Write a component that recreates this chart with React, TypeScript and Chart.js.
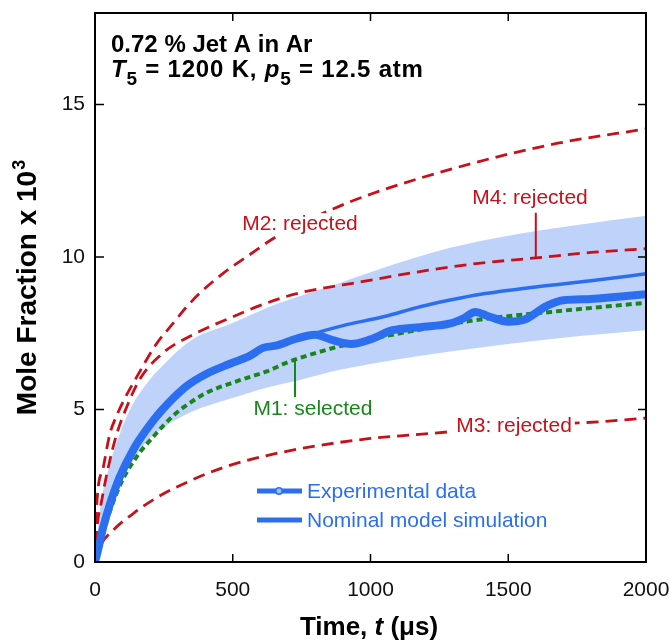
import React, { useEffect, useRef } from 'react';
import { Chart, registerables } from 'chart.js';
Chart.register(...registerables);

const FONT = "'Liberation Sans', Arial, Helvetica, sans-serif";
const BLUE = '#2b6ff0';
const BAND = '#bfd3fa';
const RED = '#c8101a';
const GREEN = '#17871a';

const xTicks = [0, 500, 1000, 1500, 2000];
const yTicks = [0, 5, 10, 15];

// Experimental data
const expT = [0, 10, 30, 55, 90, 140, 190, 240, 330, 400, 490, 560, 610, 660, 730, 800, 860, 930, 1000, 1080, 1180, 1290, 1340, 1380, 1430, 1500, 1560, 1640, 1700, 1800, 1900, 2000];
const expY = [0, 0.35, 1.15, 1.92, 2.79, 3.7, 4.38, 4.95, 5.75, 6.15, 6.5, 6.75, 7.02, 7.1, 7.32, 7.45, 7.28, 7.15, 7.3, 7.6, 7.7, 7.82, 8.0, 8.2, 8.05, 7.88, 7.95, 8.4, 8.58, 8.62, 8.7, 8.78];

// Nominal model simulation
const nomT = [0, 30, 90, 190, 330, 490, 620, 760, 900, 1046, 1180, 1289, 1400, 1600, 1800, 2000];
const nomY = [0, 1.15, 2.8, 4.35, 5.8, 6.55, 7.0, 7.4, 7.75, 8.04, 8.37, 8.59, 8.78, 9.02, 9.22, 9.45];

// M1 (selected)
const m1T = [0, 30, 90, 151, 212, 284, 345, 405, 490, 539, 624, 700, 800, 900, 1039, 1200, 1381, 1655, 2000];
const m1Y = [0, 1.0, 2.5, 3.45, 4.11, 4.8, 5.22, 5.55, 5.85, 6.0, 6.25, 6.55, 6.85, 7.1, 7.38, 7.65, 7.93, 8.2, 8.5];

// M2 (rejected)
const m2T = [0, 6, 30, 54, 82, 110, 151, 219, 284, 333, 393, 466, 551, 659, 870, 1010, 1369, 1680, 2000];
const m2Y = [0, 1.8, 3.1, 4.2, 4.87, 5.4, 6.06, 7.1, 7.83, 8.37, 8.92, 9.47, 10.01, 10.67, 11.6, 12.09, 13.07, 13.73, 14.2];

// M3 (rejected)
const m3T = [0, 18, 67, 139, 224, 345, 466, 624, 800, 1000, 1227, 1500, 1833, 2000];
const m3Y = [0, 0.5, 1.05, 1.59, 2.11, 2.66, 3.1, 3.49, 3.8, 4.05, 4.22, 4.45, 4.6, 4.72];

// M4 (rejected)
const m4T = [0, 6, 24, 48, 79, 115, 163, 246, 355, 490, 611, 732, 974, 1200, 1400, 1600, 1800, 2000];
const m4Y = [0, 1.0, 2.0, 3.1, 4.2, 5.08, 6.0, 6.85, 7.45, 8.0, 8.45, 8.8, 9.2, 9.55, 9.8, 9.97, 10.15, 10.27];

// Uncertainty band
const bandT = [0, 20, 54, 90, 127, 188, 236, 345, 490, 636, 744, 889, 1100, 1289, 1500, 1750, 2000];
const bandUpper = [0, 1.8, 3.2, 4.2, 5.0, 5.85, 6.35, 7.25, 7.8, 8.38, 8.72, 9.15, 9.8, 10.3, 10.7, 11.05, 11.35];
const bandLower = [0, 0.9, 1.8, 2.5, 3.15, 3.95, 4.33, 4.9, 5.35, 5.75, 5.97, 6.3, 6.65, 6.9, 7.15, 7.4, 7.6];

const pts = (t: number[], y: number[]) => t.map((v, i) => ({ x: v, y: y[i] }));

const overlay = {
  id: 'overlay',
  afterDraw(chart: any) {
    const { ctx, chartArea: a, scales } = chart;
    const x = scales.x, y = scales.y;
    const X = (v: number) => x.getPixelForValue(v);
    const Y = (v: number) => y.getPixelForValue(v);
    ctx.save();
    const line = (x1: number, y1: number, x2: number, y2: number) => {
      ctx.beginPath(); ctx.moveTo(x1, y1); ctx.lineTo(x2, y2); ctx.stroke();
    };
    const boxedLabel = (text: string, cx: number, cy: number, color: string) => {
      const w = ctx.measureText(text).width;
      ctx.fillStyle = '#fff';
      ctx.fillRect(cx - w / 2 - 3, cy - 11, w + 6, 22);
      ctx.fillStyle = color;
      ctx.fillText(text, cx, cy);
    };

    // Model labels
    ctx.font = `21px ${FONT}`;
    ctx.textAlign = 'center';
    ctx.textBaseline = 'middle';
    boxedLabel('M3: rejected', X(1521), Y(4.46), RED);
    boxedLabel('M2: rejected', X(744), Y(11.08), RED);
    ctx.fillStyle = RED;
    ctx.fillText('M4: rejected', X(1579), Y(11.93));
    ctx.strokeStyle = RED; ctx.lineWidth = 2;
    line(X(1600), Y(11.45), X(1600), Y(9.97));
    ctx.fillStyle = GREEN;
    ctx.fillText('M1: selected', X(791), Y(5.02));
    ctx.strokeStyle = GREEN; ctx.lineWidth = 2;
    line(X(726), Y(5.41), X(726), Y(6.62));

    // Legend
    ctx.lineCap = 'butt';
    ctx.strokeStyle = BLUE; ctx.lineWidth = 5;
    line(257, 491, 302, 491);
    line(257, 520, 302, 520);
    ctx.beginPath(); ctx.arc(279, 491, 3.2, 0, Math.PI * 2);
    ctx.fillStyle = '#9fbdf8'; ctx.fill();
    ctx.lineWidth = 1.5; ctx.stroke();
    ctx.fillStyle = BLUE;
    ctx.textAlign = 'left';
    ctx.font = `21px ${FONT}`;
    ctx.fillText('Experimental data', 307, 492);
    ctx.fillText('Nominal model simulation', 307, 521);

    // Condition text
    ctx.fillStyle = '#000';
    ctx.textBaseline = 'alphabetic';
    ctx.font = `bold 24px ${FONT}`;
    ctx.fillText('0.72 % Jet A in Ar', 111, 52);
    const runs: [string, string, number][] = [
      ['T', 'italic bold 24px', 0],
      ['5', 'bold 19px', 8],
      [' = 1200 K, ', 'bold 24px', 0],
      ['p', 'italic bold 24px', 0],
      ['5', 'bold 19px', 8],
      [' = 12.5 atm', 'bold 24px', 0],
    ];
    try { (ctx as any).letterSpacing = '0.8px'; } catch (e) { /* ignore */ }
    let cx = 111;
    for (const [t, f, dy] of runs) {
      ctx.font = `${f} ${FONT}`;
      ctx.fillText(t, cx, 77 + dy);
      cx += ctx.measureText(t).width;
    }
    try { (ctx as any).letterSpacing = '0px'; } catch (e) { /* ignore */ }

    // Axis titles
    const t1 = 'Time, ', t2 = 't', t3 = ' (\u03bcs)';
    ctx.font = `bold 26px ${FONT}`;
    const w1 = ctx.measureText(t1).width;
    const w3 = ctx.measureText(t3).width;
    ctx.font = `italic bold 26px ${FONT}`;
    const w2 = ctx.measureText(t2).width;
    let sx = 369 - (w1 + w2 + w3) / 2;
    ctx.font = `bold 26px ${FONT}`; ctx.fillText(t1, sx, 635); sx += w1;
    ctx.font = `italic bold 26px ${FONT}`; ctx.fillText(t2, sx, 635); sx += w2;
    ctx.font = `bold 26px ${FONT}`; ctx.fillText(t3, sx, 635);

    ctx.save();
    ctx.translate(36, 288);
    ctx.rotate(-Math.PI / 2);
    ctx.font = `bold 28px ${FONT}`;
    const ym = 'Mole Fraction x 10';
    const wm = ctx.measureText(ym).width;
    ctx.font = `bold 18px ${FONT}`;
    const ws = ctx.measureText('3').width;
    const start = -(wm + ws) / 2;
    ctx.font = `bold 28px ${FONT}`;
    ctx.fillText(ym, start, 0);
    ctx.font = `bold 18px ${FONT}`;
    ctx.fillText('3', start + wm + 1, -11);
    ctx.restore();

    // Frame and inward ticks
    ctx.strokeStyle = '#000';
    ctx.lineWidth = 1.5;
    for (const v of xTicks) {
      if (v === xTicks[0] || v === xTicks[xTicks.length - 1]) continue;
      const px = X(v);
      line(px, a.bottom, px, a.bottom - 8);
      line(px, a.top, px, a.top + 8);
    }
    for (const v of yTicks) {
      if (v === 0) continue;
      const py = Y(v);
      line(a.left, py, a.left + 9, py);
      line(a.right, py, a.right - 8, py);
    }
    ctx.lineWidth = 2;
    ctx.strokeRect(a.left, a.top, a.right - a.left, a.bottom - a.top);
    ctx.restore();
  },
};

export default function App() {
  const ref = useRef<HTMLCanvasElement>(null);
  useEffect(() => {
    if (!ref.current) return;
    const common = { pointRadius: 0, cubicInterpolationMode: 'monotone' as const, fill: false };
    const dash = { borderColor: RED, borderWidth: 2.8, borderDash: [12, 7], order: 3 };
    const chart = new Chart(ref.current, {
      type: 'line',
      data: {
        datasets: [
          { ...common, label: 'Experimental data', data: pts(expT, expY), borderColor: BLUE, borderWidth: 8, borderCapStyle: 'round', borderJoinStyle: 'round', order: 0 },
          { ...common, label: 'Nominal model simulation', data: pts(nomT, nomY), borderColor: BLUE, borderWidth: 3.5, order: 1 },
          { ...common, label: 'M1', data: pts(m1T, m1Y), borderColor: GREEN, borderWidth: 4, borderDash: [6, 4], order: 2 },
          { ...common, ...dash, label: 'M2', data: pts(m2T, m2Y) },
          { ...common, ...dash, label: 'M3', data: pts(m3T, m3Y) },
          { ...common, ...dash, label: 'M4', data: pts(m4T, m4Y) },
          { ...common, label: 'upper', data: pts(bandT, bandUpper), borderWidth: 0, borderColor: 'rgba(0,0,0,0)', backgroundColor: BAND, fill: '+1', order: 10 },
          { ...common, label: 'lower', data: pts(bandT, bandLower), borderWidth: 0, borderColor: 'rgba(0,0,0,0)', order: 11 },
        ],
      },
      options: {
        animation: false,
        responsive: false,
        events: [],
        layout: { padding: { top: 13, right: 25, left: 0, bottom: 0 } },
        plugins: { legend: { display: false }, tooltip: { enabled: false } },
        scales: {
          x: {
            type: 'linear', min: 0, max: 2000,
            grid: { display: false, drawTicks: false },
            border: { display: false },
            afterBuildTicks: (s: any) => { s.ticks = xTicks.map((v) => ({ value: v })); },
            afterFit: (s: any) => { s.height = 79; s.paddingLeft = 0; s.paddingRight = 0; },
            ticks: { font: { family: FONT, size: 21 }, color: '#111', padding: 16, maxRotation: 0, autoSkip: false, callback: (v: any) => String(v) },
          },
          y: {
            type: 'linear', min: 0, max: 18,
            grid: { display: false, drawTicks: false },
            border: { display: false },
            afterBuildTicks: (s: any) => { s.ticks = yTicks.map((v) => ({ value: v })); },
            afterFit: (s: any) => { s.width = 95; s.paddingTop = 0; s.paddingBottom = 0; },
            ticks: { font: { family: FONT, size: 21 }, color: '#111', padding: 10, callback: (v: any) => String(v) },
          },
        },
      },
      plugins: [overlay],
    } as any);
    return () => chart.destroy();
  }, []);
  return (
    <div style={{ position: 'absolute', left: 0, top: 0, width: 671, height: 641, background: '#fff' }}>
      <canvas ref={ref} width={671} height={641} style={{ display: 'block' }} />
    </div>
  );
}
